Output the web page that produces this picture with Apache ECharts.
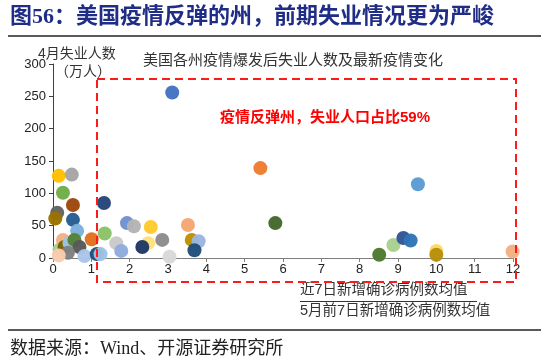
<!DOCTYPE html>
<html>

<head>
    <meta charset="utf-8">
    <script type="text/javascript" src="https://cdn.jsdelivr.net/npm/echarts@6/dist/echarts.min.js"></script>
    <title>美国疫情反弹的州</title>
</head>

<body style="margin:0;">
    <div id="container" style="width:550px;height:364px;"></div>
    <script type="text/javascript">
    // 近7日新增确诊病例数均值 / 5月前7日新增确诊病例数均值
    var stateX = [0.15, 0.49, 0.26, 0.52, 0.11, 0.06, 0.52, 0.63, 1.35, 1.01,
        1.33, 0.26, 0.17, 0.30, 0.43, 0.56, 0.69, 0.39, 0.15, 0.82,
        1.14, 1.24, 1.65, 1.78, 1.93, 2.11, 2.55, 2.48, 2.33, 2.85,
        3.04, 3.52, 3.62, 3.80, 3.69, 3.11, 5.41, 5.80, 9.52, 8.51,
        8.88, 9.14, 9.33, 10.0, 10.0, 11.99];
    // 4月失业人数（万人）
    var stateY = [127, 129, 101, 82, 70, 61, 59, 42, 38, 29,
        85, 28, 13, 17, 23, 28, 17, 8, 4, 3,
        6, 6, 23, 11, 54, 49, 48, 23, 17, 28,
        2, 51, 28, 26, 12, 256, 139, 54, 114, 5,
        20, 31, 27, 11, 5, 10];
    var yTicks = [0, 50, 100, 150, 200, 250, 300];

    // 每个州的颜色
    var pointColors = ['#FFC000', '#A5A5A5', '#70AD47', '#9E480E', '#636363', '#997300', '#255E91', '#7CAFDD', '#8CC168', '#E2701F',
        '#264478', '#F4B183', '#A9D18E', '#7F6000', '#9DC3E6', '#548235', '#595959', '#808080', '#F8CBAD', '#A9C4EB',
        '#1F4E79', '#9DC3E6', '#C9C9C9', '#8FAADC', '#6F92D0', '#B4B4B4', '#FFCA2E', '#FFE07A', '#1F3864', '#8C8C8C',
        '#D9D9D9', '#F4A672', '#BF9000', '#9DB6E0', '#1F4E79', '#4472C4', '#ED7D31', '#43682B', '#5B9BD5', '#4E7A2E',
        '#A9D18E', '#2F5597', '#2E75B6', '#FFD966', '#B8900A', '#F4B183'];

    var points = stateX.map(function (x, i) {
        return { value: [x, stateY[i]], itemStyle: { color: pointColors[i] } };
    });

    var myChart = echarts.init(document.getElementById('container'));

    var sansCJK = 'Arial, "Liberation Sans", "Noto Sans CJK SC", sans-serif';
    var serifCJK = '"Liberation Serif", "Noto Sans CJK SC", serif';

    var option = {
        animation: false,
        backgroundColor: '#fff',
        grid: { left: 53, right: 37, top: 64, bottom: 106 },
        xAxis: {
            type: 'value',
            min: 0, max: 12, interval: 1,
            axisLine: { lineStyle: { color: '#7f7f7f', width: 1 } },
            axisTick: { show: true, length: 4, lineStyle: { color: '#7f7f7f' } },
            axisLabel: { color: '#222', fontSize: 13, fontFamily: sansCJK, margin: 5 },
            splitLine: { show: false }
        },
        yAxis: {
            type: 'value',
            min: 0, max: 300, interval: 50,
            axisLine: { show: true, lineStyle: { color: '#404040', width: 1 } },
            axisTick: { show: true, length: 4, lineStyle: { color: '#404040' } },
            axisLabel: { color: '#222', fontSize: 13, fontFamily: sansCJK, margin: 7,
                formatter: function (v) { return yTicks.indexOf(v) >= 0 ? v : ''; } },
            splitLine: { show: false }
        },
        series: [{
            type: 'scatter',
            symbolSize: 14,
            itemStyle: { opacity: 0.97 },
            data: points
        }],
        graphic: [
            { type: 'text', left: 10, top: 6, style: { text: '图56：美国疫情反弹的州，前期失业情况更为严峻',
                font: 'bold 22px ' + serifCJK, fill: '#1F2D86' } },
            { type: 'line', shape: { x1: 8, y1: 36, x2: 541, y2: 36 }, style: { stroke: '#222', lineWidth: 1.5 } },
            { type: 'text', left: 38, top: 47, style: { text: '4月失业人数', font: '14px ' + sansCJK, fill: '#333' } },
            { type: 'text', left: 55, top: 65, style: { text: '（万人）', font: '14px ' + sansCJK, fill: '#333' } },
            { type: 'text', left: 143, top: 53, style: { text: '美国各州疫情爆发后失业人数及最新疫情变化', font: '15px ' + sansCJK, fill: '#333' } },
            { type: 'rect', shape: { x: 97, y: 79, width: 419, height: 203 },
                style: { fill: 'none', stroke: '#FF1A1A', lineWidth: 2, lineDash: [8, 5] }, z: 10 },
            { type: 'text', left: 220, top: 110, style: { text: '疫情反弹州，失业人口占比59%', font: 'bold 15px ' + sansCJK, fill: '#FF0000' } },
            { type: 'text', left: 300, top: 283, style: { text: '近7日新增确诊病例数均值', font: '14.5px ' + sansCJK, fill: '#333' } },
            { type: 'line', shape: { x1: 300, y1: 301.5, x2: 477, y2: 301.5 }, style: { stroke: '#333', lineWidth: 1 } },
            { type: 'text', left: 300, top: 304, style: { text: '5月前7日新增确诊病例数均值', font: '14.5px ' + sansCJK, fill: '#333' } },
            { type: 'line', shape: { x1: 8, y1: 330, x2: 541, y2: 330 }, style: { stroke: '#222', lineWidth: 1.5 } },
            { type: 'text', left: 10, top: 340, style: { text: '数据来源：Wind、开源证券研究所', font: '18px ' + serifCJK, fill: '#222' } }
        ]
    };

    myChart.setOption(option);
    </script>
</body>

</html>
